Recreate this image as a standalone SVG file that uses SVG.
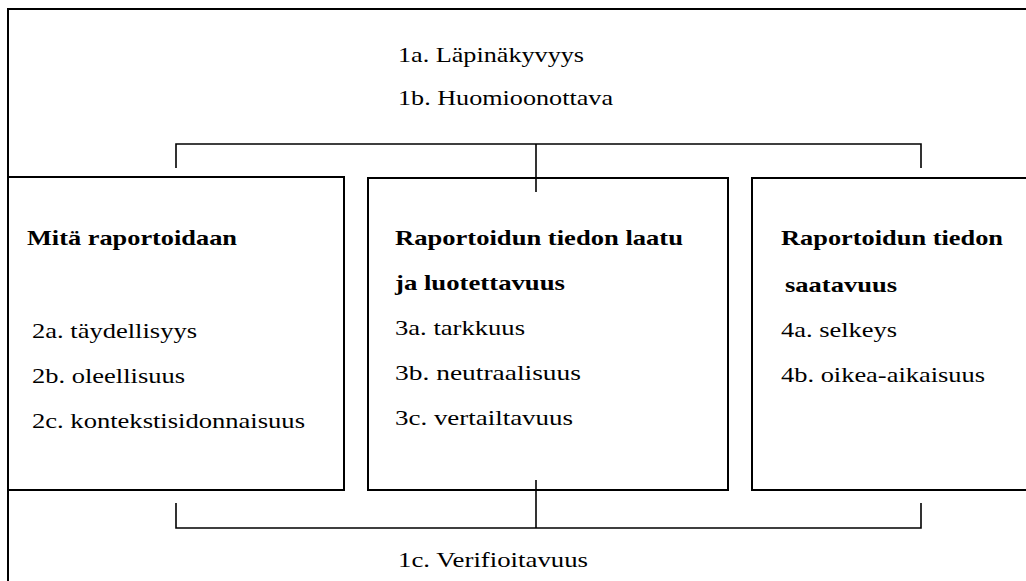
<svg xmlns="http://www.w3.org/2000/svg" width="1026" height="581" viewBox="0 0 1026 581">
<style>
.box{fill:none;stroke:#000;stroke-width:2}
.con{fill:none;stroke:#000;stroke-width:1.6}
.t{font-family:'Liberation Serif',Tinos,'Times New Roman',Times,serif;font-size:22px;fill:#000}
.b{font-weight:bold}
</style>
<rect width="1026" height="581" fill="#fff"/>
<g id="frame" class="t" font-family="Liberation Serif, serif">
<rect class="box" x="8" y="9" width="1030" height="590"/>
<text x="398" y="62" textLength="186" lengthAdjust="spacingAndGlyphs">1a. Läpinäkyvyys</text>
<text x="398" y="105" textLength="215" lengthAdjust="spacingAndGlyphs">1b. Huomioonottava</text>
<text x="398" y="567" textLength="190" lengthAdjust="spacingAndGlyphs">1c. Verifioitavuus</text>
</g>
<g id="connectors">
<path class="con" d="M176 168 V144 H921 V168"/>
<path class="con" d="M536 144 V192"/>
<path class="con" d="M176 503 V528 H921 V503"/>
<path class="con" d="M536 480 V528"/>
</g>
<g id="node-mita" class="t" font-family="Liberation Serif, serif">
<rect class="box" x="8" y="177" width="336" height="313"/>
<text class="b" x="27" y="245" textLength="210" lengthAdjust="spacingAndGlyphs">Mitä raportoidaan</text>
<text x="32" y="338" textLength="165" lengthAdjust="spacingAndGlyphs">2a. täydellisyys</text>
<text x="32" y="383" textLength="153" lengthAdjust="spacingAndGlyphs">2b. oleellisuus</text>
<text x="32" y="428" textLength="273" lengthAdjust="spacingAndGlyphs">2c. kontekstisidonnaisuus</text>
</g>
<g id="node-laatu" class="t" font-family="Liberation Serif, serif">
<rect class="box" x="368" y="178" width="360" height="312"/>
<text class="b" x="395" y="245" textLength="288" lengthAdjust="spacingAndGlyphs">Raportoidun tiedon laatu</text>
<text class="b" x="395" y="290" textLength="170" lengthAdjust="spacingAndGlyphs">ja luotettavuus</text>
<text x="395" y="335" textLength="130" lengthAdjust="spacingAndGlyphs">3a. tarkkuus</text>
<text x="395" y="380" textLength="186" lengthAdjust="spacingAndGlyphs">3b. neutraalisuus</text>
<text x="395" y="425" textLength="178" lengthAdjust="spacingAndGlyphs">3c. vertailtavuus</text>
</g>
<g id="node-saatavuus" class="t" font-family="Liberation Serif, serif">
<rect class="box" x="752" y="178" width="290" height="312"/>
<text class="b" x="781" y="245" textLength="222" lengthAdjust="spacingAndGlyphs">Raportoidun tiedon</text>
<text class="b" x="785" y="292" textLength="112" lengthAdjust="spacingAndGlyphs">saatavuus</text>
<text x="781" y="337" textLength="116" lengthAdjust="spacingAndGlyphs">4a. selkeys</text>
<text x="781" y="382" textLength="204" lengthAdjust="spacingAndGlyphs">4b. oikea-aikaisuus</text>
</g>
</svg>
